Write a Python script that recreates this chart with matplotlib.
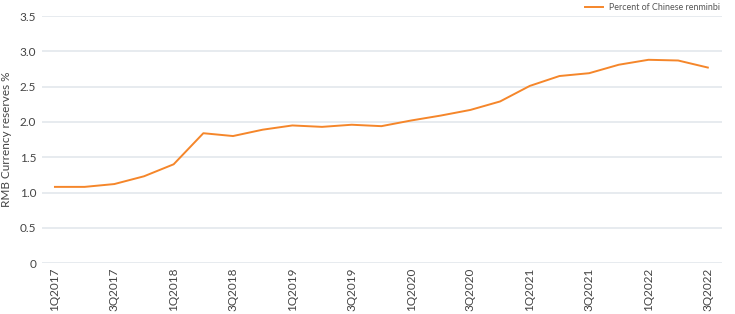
import matplotlib
matplotlib.use("Agg")
import matplotlib.pyplot as plt

quarters = [f"{q}Q{y}" for y in range(2017, 2023) for q in range(1, 5)][:23]
values = [1.08, 1.08, 1.12, 1.23, 1.40, 1.84, 1.80, 1.89, 1.95, 1.93, 1.96, 1.94,
          2.02, 2.09, 2.17, 2.29, 2.51, 2.65, 2.69, 2.81, 2.88, 2.87, 2.77]
yticks = [0, 0.5, 1.0, 1.5, 2.0, 2.5, 3.0, 3.5]
ytick_labels = ["0", "0.5", "1.0", "1.5", "2.0", "2.5", "3.0", "3.5"]

plt.rcParams['font.family'] = ['Lato', 'DejaVu Sans']
fig = plt.figure(figsize=(7.35, 3.14), dpi=100)
ax = fig.add_axes([0.057, 0.162, 0.925, 0.787])
x = list(range(len(quarters)))
ax.plot(x, values, color="#f5862a", lw=1.4, label="Percent of Chinese renminbi")
ax.set_xlim(-0.44, 22.47)
ax.set_ylim(0, 3.5)
ax.set_yticks(yticks)
ax.set_yticklabels(ytick_labels)
ax.set_xticks(x[::2])
ax.set_xticklabels(quarters[::2], rotation=90)
ax.grid(axis="y", color="#e3e8ec", lw=1.2)
ax.set_axisbelow(True)
for s in ax.spines.values():
    s.set_visible(False)
ax.tick_params(axis="both", length=0, labelsize=8.5, labelcolor="#444444")
ax.tick_params(axis="y", pad=4)
ax.tick_params(axis="x", pad=3)
ax.set_ylabel("RMB Currency reserves %", fontsize=8.5, color="#444444", labelpad=6)
ax.legend(loc="lower right", bbox_to_anchor=(1.002, 1.0), frameon=False, fontsize=6.4,
          handlelength=2.0, handletextpad=0.6, borderaxespad=0.0, labelcolor="#555555")
fig.savefig("out.png", dpi=100)
